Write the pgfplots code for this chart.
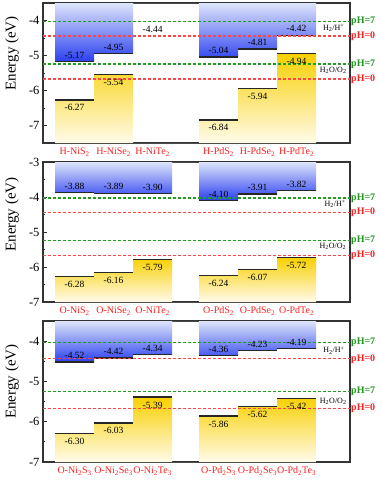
\documentclass[border=0pt]{standalone}
\usepackage{pgfplots}
\pgfplotsset{compat=1.18}
\usepackage{fontspec}
\setmainfont{Liberation Serif}
\definecolor{cbtop}{HTML}{DDE5FA}
\definecolor{cbbot}{HTML}{2B3FF0}
\definecolor{vbtop}{HTML}{F8D000}
\definecolor{vbbot}{HTML}{FFFBEA}
\definecolor{lgreen}{RGB}{30,160,30}
\definecolor{lred}{RGB}{255,70,70}
\definecolor{tgreen}{RGB}{30,150,30}
\definecolor{tred}{RGB}{255,30,30}
\pgfplotsset{
  panel/.style={
    scale only axis, width=307pt, clip=false,
    xmin=-0.81, xmax=7.06,
    axis line style={black!80, line width=1.1pt},
    xtick={0,1,2,3.69,4.69,5.69},
    xtick style={draw=none},
    xticklabel style={text=tred, font=\fontsize{10}{12}\selectfont, yshift=-1.5pt},
    ytick pos=left, tick align=inside,
    minor y tick num=1,
    major tick length=4pt, minor tick length=2.5pt,
    ytick style={black!80, line width=0.8pt},
    yticklabel style={font=\fontsize{12.5}{14}\selectfont},
    /pgf/number format/assume math mode=true,
    ylabel={Energy (eV)},
    ylabel style={font=\fontsize{15}{17}\selectfont, anchor=center},
  },
  cb/.style={draw=none, top color=cbtop, bottom color=cbbot},
  vb/.style={draw=none, top color=vbtop, bottom color=vbbot},
  edge/.style={black!85, line width=1.3pt, unbounded coords=jump, mark=none},
  cblab/.style={draw=none, mark=none, nodes near coords, point meta=explicit symbolic,
    nodes near coords style={anchor=south, inner sep=0pt, yshift=3pt, font=\fontsize{9.5}{11}\selectfont, text=black}},
  vblab/.style={draw=none, mark=none, nodes near coords, point meta=explicit symbolic,
    nodes near coords style={anchor=north, inner sep=0pt, yshift=-4.5pt, font=\fontsize{9.5}{11}\selectfont, text=black}},
  h7/.style={draw=lgreen, dash pattern=on 3.2pt off 1.8pt, line width=1.2pt},
  h0/.style={draw=lred, dash pattern=on 3.2pt off 1.8pt, line width=1.2pt},
}
\newcommand{\phlabels}{%
  \addplot[h7] coordinates {(-0.81,-4.03) (7.06,-4.03)};
  \addplot[h0] coordinates {(-0.81,-4.44) (7.06,-4.44)};
  \addplot[h7] coordinates {(-0.81,-5.24) (7.06,-5.24)};
  \addplot[h0] coordinates {(-0.81,-5.67) (7.06,-5.67)};
  \node[anchor=west, inner sep=1pt, text=tgreen, font=\bfseries\fontsize{10}{12}\selectfont] at (axis cs:7.06,-4.03) {pH=7};
  \node[anchor=west, inner sep=1pt, text=tred, font=\bfseries\fontsize{10}{12}\selectfont] at (axis cs:7.06,-4.44) {pH=0};
  \node[anchor=west, inner sep=1pt, text=tgreen, font=\bfseries\fontsize{10}{12}\selectfont] at (axis cs:7.06,-5.24) {pH=7};
  \node[anchor=west, inner sep=1pt, text=tred, font=\bfseries\fontsize{10}{12}\selectfont] at (axis cs:7.06,-5.67) {pH=0};
}
\begin{document}
\begin{tikzpicture}
% ---------------- Panel 1 ----------------
\begin{axis}[panel, at={(43pt,-143pt)}, anchor=south west, height=140pt,
  ymin=-7.5, ymax=-3.5, ytick={-7,-6,-5,-4},
  xticklabels={H-NiS\textsubscript{2}, H-NiSe\textsubscript{2}, H-NiTe\textsubscript{2}, H-PdS\textsubscript{2}, H-PdSe\textsubscript{2}, H-PdTe\textsubscript{2}},
  ylabel style={at={(axis description cs:-0.101,0.64)}}]
\addplot[cb] coordinates {(-0.5,-3.5) (-0.5,-5.17) (0.5,-5.17) (0.5,-4.95) (1.5,-4.95) (1.5,-3.5) (3.19,-3.5) (3.19,-5.04) (4.19,-5.04) (4.19,-4.81) (5.19,-4.81) (5.19,-4.42) (6.19,-4.42) (6.19,-3.5)};
\addplot[vb] coordinates {(-0.5,-7.5) (-0.5,-6.27) (0.5,-6.27) (0.5,-5.54) (1.5,-5.54) (1.5,-7.5) (3.19,-7.5) (3.19,-6.84) (4.19,-6.84) (4.19,-5.94) (5.19,-5.94) (5.19,-4.94) (6.19,-4.94) (6.19,-7.5)};
\addplot[edge] coordinates {(-0.5,-5.17) (0.5,-5.17) (0.5,nan) (0.5,-4.95) (1.5,-4.95) (1.5,nan) (3.19,-5.04) (4.19,-5.04) (4.19,nan) (4.19,-4.81) (5.19,-4.81) (5.19,nan) (5.19,-4.42) (6.19,-4.42)};
\addplot[edge] coordinates {(-0.5,-6.27) (0.5,-6.27) (0.5,nan) (0.5,-5.54) (1.5,-5.54) (1.5,nan) (3.19,-6.84) (4.19,-6.84) (4.19,nan) (4.19,-5.94) (5.19,-5.94) (5.19,nan) (5.19,-4.94) (6.19,-4.94)};
\phlabels
\addplot[cblab] coordinates {(0,-5.17)[-5.17] (1,-4.95)[-4.95] (2,-4.44)[-4.44] (3.69,-5.04)[-5.04] (4.69,-4.81)[-4.81] (5.69,-4.42)[-4.42]};
\addplot[vblab] coordinates {(0,-6.27)[-6.27] (1,-5.54)[-5.54] (3.69,-6.84)[-6.84] (4.69,-5.94)[-5.94] (5.69,-4.94)[-4.94]};
\node[font=\fontsize{8}{9}\selectfont] at (axis cs:6.64,-4.2) {H\textsubscript{2}/H\textsuperscript{+}};
\node[font=\fontsize{8}{9}\selectfont] at (axis cs:6.63,-5.42) {H\textsubscript{2}O/O\textsubscript{2}};
\end{axis}
% ---------------- Panel 2 ----------------
\begin{axis}[panel, at={(43pt,-302pt)}, anchor=south west, height=140pt,
  ymin=-7, ymax=-3, ytick={-7,-6,-5,-4,-3},
  xticklabels={O-NiS\textsubscript{2}, O-NiSe\textsubscript{2}, O-NiTe\textsubscript{2}, O-PdS\textsubscript{2}, O-PdSe\textsubscript{2}, O-PdTe\textsubscript{2}},
  ylabel style={at={(axis description cs:-0.101,0.625)}}]
\addplot[cb] coordinates {(-0.5,-3) (-0.5,-3.88) (0.5,-3.88) (0.5,-3.89) (1.5,-3.89) (1.5,-3.90) (2.5,-3.90) (2.5,-3) (3.19,-3) (3.19,-4.10) (4.19,-4.10) (4.19,-3.91) (5.19,-3.91) (5.19,-3.82) (6.19,-3.82) (6.19,-3)};
\addplot[vb] coordinates {(-0.5,-7) (-0.5,-6.28) (0.5,-6.28) (0.5,-6.16) (1.5,-6.16) (1.5,-5.79) (2.5,-5.79) (2.5,-7) (3.19,-7) (3.19,-6.24) (4.19,-6.24) (4.19,-6.07) (5.19,-6.07) (5.19,-5.72) (6.19,-5.72) (6.19,-7)};
\addplot[edge] coordinates {(-0.5,-3.88) (0.5,-3.88) (0.5,nan) (0.5,-3.89) (1.5,-3.89) (1.5,nan) (1.5,-3.90) (2.5,-3.90) (2.5,nan) (3.19,-4.10) (4.19,-4.10) (4.19,nan) (4.19,-3.91) (5.19,-3.91) (5.19,nan) (5.19,-3.82) (6.19,-3.82)};
\addplot[edge] coordinates {(-0.5,-6.28) (0.5,-6.28) (0.5,nan) (0.5,-6.16) (1.5,-6.16) (1.5,nan) (1.5,-5.79) (2.5,-5.79) (2.5,nan) (3.19,-6.24) (4.19,-6.24) (4.19,nan) (4.19,-6.07) (5.19,-6.07) (5.19,nan) (5.19,-5.72) (6.19,-5.72)};
\phlabels
\addplot[cblab] coordinates {(0,-3.88)[-3.88] (1,-3.89)[-3.89] (2,-3.90)[-3.90] (3.69,-4.10)[-4.10] (4.69,-3.91)[-3.91] (5.69,-3.82)[-3.82]};
\addplot[vblab] coordinates {(0,-6.28)[-6.28] (1,-6.16)[-6.16] (2,-5.79)[-5.79] (3.69,-6.24)[-6.24] (4.69,-6.07)[-6.07] (5.69,-5.72)[-5.72]};
\node[font=\fontsize{8}{9}\selectfont] at (axis cs:6.68,-4.2) {H\textsubscript{2}/H\textsuperscript{+}};
\node[font=\fontsize{8}{9}\selectfont] at (axis cs:6.62,-5.42) {H\textsubscript{2}O/O\textsubscript{2}};
\end{axis}
% ---------------- Panel 3 ----------------
\begin{axis}[panel, at={(43pt,-462pt)}, anchor=south west, height=141pt,
  ymin=-7, ymax=-3.5, ytick={-7,-6,-5,-4},
  xticklabels={O-Ni\textsubscript{2}S\textsubscript{3}, O-Ni\textsubscript{2}Se\textsubscript{3}, O-Ni\textsubscript{2}Te\textsubscript{3}, O-Pd\textsubscript{2}S\textsubscript{3}, O-Pd\textsubscript{2}Se\textsubscript{3}, O-Pd\textsubscript{2}Te\textsubscript{3}},
  ylabel style={at={(axis description cs:-0.101,0.57)}}]
\addplot[cb] coordinates {(-0.5,-3.5) (-0.5,-4.52) (0.5,-4.52) (0.5,-4.42) (1.5,-4.42) (1.5,-4.34) (2.5,-4.34) (2.5,-3.5) (3.19,-3.5) (3.19,-4.36) (4.19,-4.36) (4.19,-4.23) (5.19,-4.23) (5.19,-4.19) (6.19,-4.19) (6.19,-3.5)};
\addplot[vb] coordinates {(-0.5,-7) (-0.5,-6.30) (0.5,-6.30) (0.5,-6.03) (1.5,-6.03) (1.5,-5.39) (2.5,-5.39) (2.5,-7) (3.19,-7) (3.19,-5.86) (4.19,-5.86) (4.19,-5.62) (5.19,-5.62) (5.19,-5.42) (6.19,-5.42) (6.19,-7)};
\addplot[edge] coordinates {(-0.5,-4.52) (0.5,-4.52) (0.5,nan) (0.5,-4.42) (1.5,-4.42) (1.5,nan) (1.5,-4.34) (2.5,-4.34) (2.5,nan) (3.19,-4.36) (4.19,-4.36) (4.19,nan) (4.19,-4.23) (5.19,-4.23) (5.19,nan) (5.19,-4.19) (6.19,-4.19)};
\addplot[edge] coordinates {(-0.5,-6.30) (0.5,-6.30) (0.5,nan) (0.5,-6.03) (1.5,-6.03) (1.5,nan) (1.5,-5.39) (2.5,-5.39) (2.5,nan) (3.19,-5.86) (4.19,-5.86) (4.19,nan) (4.19,-5.62) (5.19,-5.62) (5.19,nan) (5.19,-5.42) (6.19,-5.42)};
\phlabels
\addplot[cblab] coordinates {(0,-4.52)[-4.52] (1,-4.42)[-4.42] (2,-4.34)[-4.34] (3.69,-4.36)[-4.36] (4.69,-4.23)[-4.23] (5.69,-4.19)[-4.19]};
\addplot[vblab] coordinates {(0,-6.30)[-6.30] (1,-6.03)[-6.03] (2,-5.39)[-5.39] (3.69,-5.86)[-5.86] (4.69,-5.62)[-5.62] (5.69,-5.42)[-5.42]};
\node[font=\fontsize{8}{9}\selectfont] at (axis cs:6.65,-4.23) {H\textsubscript{2}/H\textsuperscript{+}};
\node[font=\fontsize{8}{9}\selectfont] at (axis cs:6.63,-5.5) {H\textsubscript{2}O/O\textsubscript{2}};
\end{axis}
\pgfresetboundingbox
\path (0,0) rectangle (382pt,-483pt);
\end{tikzpicture}
\end{document}
